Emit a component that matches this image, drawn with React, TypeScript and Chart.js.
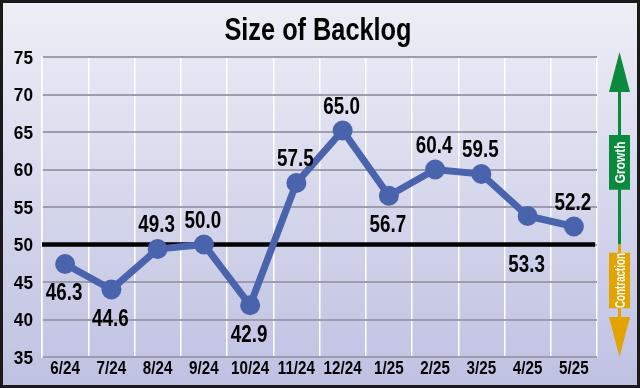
import React, { useEffect, useRef } from 'react';
import { Chart, registerables } from 'chart.js';

Chart.register(...registerables);

const title = 'Size of Backlog';
const categories = ['6/24', '7/24', '8/24', '9/24', '10/24', '11/24', '12/24', '1/25', '2/25', '3/25', '4/25', '5/25'];
const values = [47.4, 44.0, 49.4, 50.0, 41.9, 58.2, 65.2, 56.5, 60.0, 59.4, 53.8, 52.4];
const valueLabels = ['46.3', '44.6', '49.3', '50.0', '42.9', '57.5', '65.0', '56.7', '60.4', '59.5', '53.3', '52.2'];
const labelPlacement = ['below', 'below', 'above', 'above', 'below', 'above', 'above', 'below', 'above', 'above', 'belowLine', 'above'];
const yMin = 35;
const yMax = 75;
const yStep = 5;
const baseline = 50;
const growthText = 'Growth';
const contractionText = 'Contraction';

const FONT = '"Liberation Sans", Arial, sans-serif';
const LINE_BLUE = '#4a63ad';
const GREEN = '#0a8a3c';
const ORANGE = '#e3a300';

function drawText(
  ctx: CanvasRenderingContext2D,
  text: string,
  x: number,
  y: number,
  size: number,
  sx: number,
  align: CanvasTextAlign = 'center',
  rotate = 0,
  color = '#000'
) {
  ctx.save();
  ctx.translate(x, y);
  if (rotate) ctx.rotate(rotate);
  ctx.scale(sx, 1);
  ctx.font = `bold ${size}px ${FONT}`;
  ctx.fillStyle = color;
  ctx.textAlign = align;
  ctx.textBaseline = 'alphabetic';
  // y is the vertical centre of the capitals
  ctx.fillText(text, 0, size * 0.716 / 2);
  ctx.restore();
}

const decorPlugin = {
  id: 'decor',
  beforeDraw(chart: any) {
    const { ctx, width, height } = chart;
    ctx.save();
    const g = ctx.createLinearGradient(0, 0, 0, height);
    g.addColorStop(0, '#eeeef6');
    g.addColorStop(1, '#bec1e2');
    ctx.fillStyle = g;
    ctx.fillRect(0, 0, width, height);
    ctx.strokeStyle = '#1a1a1a';
    ctx.lineWidth = 3;
    ctx.strokeRect(1.5, 1.5, width - 3, height - 3);
    ctx.restore();
  },
  beforeDatasetsDraw(chart: any) {
    const { ctx, chartArea, scales } = chart;
    const y = scales.y.getPixelForValue(baseline);
    ctx.save();
    ctx.strokeStyle = '#000';
    ctx.lineWidth = 4.5;
    ctx.beginPath();
    ctx.moveTo(chartArea.left, y);
    ctx.lineTo(chartArea.right - 2, y);
    ctx.stroke();
    ctx.restore();
  },
  afterDraw(chart: any) {
    const { ctx, chartArea, scales, width } = chart;
    const ys = scales.y;
    const xs = scales.x;
    ctx.save();
    // title
    drawText(ctx, title, width / 2 - 2, 29.5, 30.5, 0.83);

    // y tick labels
    ys.ticks.forEach((t: any) => {
      drawText(ctx, String(t.value), chartArea.left - 9, ys.getPixelForValue(t.value), 18.5, 0.93, 'right');
    });
    // x tick labels
    categories.forEach((c, i) => {
      drawText(ctx, c, xs.getPixelForTick(i), 367, 19, 0.8);
    });

    // data labels
    const meta = chart.getDatasetMeta(0);
    meta.data.forEach((pt: any, i: number) => {
      const place = labelPlacement[i];
      let ly = pt.y;
      if (place === 'above') ly = pt.y - 25;
      else if (place === 'below') ly = pt.y + 28;
      else ly = ys.getPixelForValue(baseline) + 19;
      drawText(ctx, valueLabels[i], pt.x - 1, ly, 23.5, 0.8);
    });

    // arrows
    const cx = chartArea.right + 22.5;
    const half = 10.5;
    const yBase = ys.getPixelForValue(baseline);
    const yTop = ys.getPixelForValue(yMax) - 5;
    const yBottom = ys.getPixelForValue(yMin);
    // green
    ctx.fillStyle = GREEN;
    ctx.fillRect(cx - 1.5, yTop + 38, 3, yBase - (yTop + 38));
    ctx.beginPath();
    ctx.moveTo(cx, yTop);
    ctx.lineTo(cx + half, yTop + 40);
    ctx.lineTo(cx - half, yTop + 40);
    ctx.closePath();
    ctx.fill();
    const gTop = ys.getPixelForValue(64.6);
    const gBot = ys.getPixelForValue(57.3);
    ctx.fillRect(cx - half, gTop, half * 2, gBot - gTop);
    // orange
    ctx.fillStyle = ORANGE;
    ctx.fillRect(cx - 1.5, yBase, 3, yBottom - 38 - yBase);
    ctx.beginPath();
    ctx.moveTo(cx, yBottom);
    ctx.lineTo(cx + half, yBottom - 40);
    ctx.lineTo(cx - half, yBottom - 40);
    ctx.closePath();
    ctx.fill();
    const oTop = ys.getPixelForValue(48.9);
    const oBot = ys.getPixelForValue(41.5);
    ctx.fillRect(cx - half, oTop, half * 2, oBot - oTop);

    // box texts
    drawText(ctx, growthText, cx, (gTop + gBot) / 2, 15, 0.8, 'center', -Math.PI / 2, '#fff');
    drawText(ctx, contractionText, cx, (oTop + oBot) / 2, 14, 0.7, 'center', -Math.PI / 2, '#fff');
    ctx.restore();
  },
};

export default function App() {
  const ref = useRef<HTMLCanvasElement>(null);
  useEffect(() => {
    document.body.style.margin = '0';
    const chart = new Chart(ref.current as HTMLCanvasElement, {
      type: 'line',
      data: {
        labels: categories,
        datasets: [
          {
            data: values,
            borderColor: LINE_BLUE,
            backgroundColor: LINE_BLUE,
            borderWidth: 7,
            pointRadius: 10,
            pointBackgroundColor: LINE_BLUE,
            pointBorderWidth: 0,
            tension: 0,
          },
        ],
      },
      options: {
        animation: false,
        responsive: false,
        maintainAspectRatio: false,
        layout: { padding: { top: 57, right: 43, bottom: 0, left: 4 } },
        plugins: { legend: { display: false }, title: { display: false }, tooltip: { enabled: false } },
        scales: {
          x: {
            type: 'category',
            offset: true,
            grid: { offset: true, color: '#ffffff', lineWidth: 1.5, drawTicks: false },
            border: { display: false },
            ticks: { display: false, autoSkip: false },
            afterFit: (s: any) => { s.height = 31; },
          },
          y: {
            min: yMin,
            max: yMax,
            grid: { color: '#9d9dad', lineWidth: 2, drawTicks: false },
            border: { display: true, color: '#ffffff', width: 1.5 },
            ticks: { display: false, stepSize: yStep },
            afterFit: (s: any) => { s.width = 38; },
          },
        },
      },
      plugins: [decorPlugin],
    });
    return () => chart.destroy();
  }, []);
  return <canvas ref={ref} width={640} height={388} style={{ display: 'block', width: 640, height: 388 }} />;
}
